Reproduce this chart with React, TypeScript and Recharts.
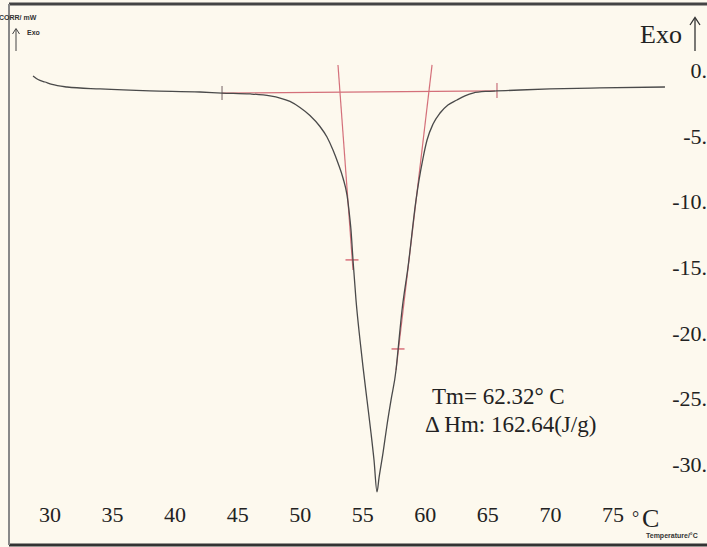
import { ComposedChart, Line, XAxis, YAxis } from 'recharts'

// #region Data
// DSC trace, temperature (°C) vs heat flow (mW)
const curveT = [
  28.64, 29.04, 29.6, 30.16, 31.36, 34.0, 37.99, 41.99, 43.75, 45.99, 47.59, 48.39, 49.18,
  49.98, 50.78, 51.58, 52.14, 52.62, 53.02, 53.42, 53.74, 53.94, 54.06, 54.22, 54.46, 54.78,
  55.02, 55.34, 55.66, 55.9, 56.14, 56.3, 56.62, 56.94, 57.26, 57.66, 57.82, 58.14, 58.62,
  59.26, 59.5, 59.82, 60.14, 60.62, 61.18, 61.81, 62.53, 63.17, 63.81, 64.93, 65.73, 67.57,
  69.97, 73.96, 79.16,
]
const curveV = [
  -0.38, -0.65, -0.84, -1.03, -1.22, -1.37, -1.52, -1.6, -1.68, -1.75, -1.9, -2.06, -2.32,
  -2.78, -3.39, -4.23, -5.03, -6.02, -7.01, -8.15, -9.44, -10.97, -12.11, -14.39, -17.44,
  -20.49, -22.54, -25.06, -27.57, -29.63, -32.06, -30.99, -29.09, -26.96, -25.06, -22.77,
  -21.25, -18.2, -14.93, -9.82, -8.3, -6.63, -5.26, -4.04, -3.2, -2.59, -2.21, -1.9, -1.68,
  -1.55, -1.52, -1.45, -1.37, -1.29, -1.22,
]

// construction lines (baseline + onset/endset tangents)
const baselineT = [43.75, 65.57]
const baselineV = [-1.68, -1.52]
const leftTanT = [53.02, 54.22]
const leftTanV = [0.46, -15.16]
const rightTanT = [60.54, 57.66]
const rightTanV = [0.46, -22.77]
const leftCrossT = [53.62, 54.66]
const leftCrossV = [-14.39, -14.39]
const rightCrossT = [57.3, 58.34]
const rightCrossV = [-21.17, -21.17]
const startMarkT = [43.75, 43.75]
const startMarkV = [-1.14, -2.21]
const endMarkT = [65.73, 65.73]
const endMarkV = [-0.91, -2.06]

const xLabels = [30, 35, 40, 45, 50, 55, 60, 65, 70, 75]
const xTickMarks = [29.6, 33.76, 37.83, 41.99, 46.07, 50.14, 54.3, 58.38, 62.45, 66.53, 70.61, 74.68, 78.84]
const yLabels = [0, -5, -10, -15, -20, -25, -30]
// #endregion

const pts = (t: number[], v: number[]) => t.map((x, i) => ({ t: x, v: v[i] }))

const curve = pts(curveT, curveV)
const segments = [
  { data: pts(baselineT, baselineV), color: '#d4707a' },
  { data: pts(leftTanT, leftTanV), color: '#d4707a' },
  { data: pts(rightTanT, rightTanV), color: '#d4707a' },
  { data: pts(leftCrossT, leftCrossV), color: '#d0505e' },
  { data: pts(rightCrossT, rightCrossV), color: '#d0505e' },
  { data: pts(startMarkT, startMarkV), color: '#8a7a7a' },
  { data: pts(endMarkT, endMarkV), color: '#c8707a' },
]

const X_DOMAIN: [number, number] = [26.72, 82.52]
const Y_DOMAIN: [number, number] = [-36.1, 5.1]
const SERIF = '"Liberation Serif", serif'
const INK = '#222'

const BottomTick = (props: any) => {
  const { x, y, payload } = props
  return (
    <text x={x} y={y - 22} textAnchor="middle" fontFamily={SERIF} fontSize={22} fill={INK}>
      {payload.value}
    </text>
  )
}

// the instrument's labels run off the right edge, only "-10." etc. is visible
const RightTick = (props: any) => {
  const { x, y, payload } = props
  return (
    <text x={x} y={y + 7} textAnchor="end" fontFamily={SERIF} fontSize={22} fill={INK}>
      {`${payload.value}.`}
    </text>
  )
}

export default function App() {
  return (
    <div
      style={{
        position: 'absolute',
        left: 0,
        top: 0,
        width: 707,
        height: 547,
        background: '#fdf9ee',
        overflow: 'hidden',
      }}
    >
      <ComposedChart width={707} height={547} margin={{ top: 4, right: 0, bottom: 2, left: 9 }}>
        <XAxis
          xAxisId="b"
          dataKey="t"
          type="number"
          domain={X_DOMAIN}
          allowDataOverflow
          orientation="bottom"
          mirror
          height={1}
          ticks={xTickMarks}
          interval={0}
          tick={false}
          tickSize={6}
          axisLine={{ stroke: '#333', strokeWidth: 3 }}
          tickLine={{ stroke: '#555' }}
        />
        <XAxis
          xAxisId="top"
          dataKey="t"
          type="number"
          domain={X_DOMAIN}
          allowDataOverflow
          orientation="top"
          mirror
          height={1}
          ticks={xTickMarks}
          interval={0}
          tick={false}
          tickSize={6}
          axisLine={{ stroke: '#444', strokeWidth: 3 }}
          tickLine={{ stroke: '#555' }}
        />
        <XAxis
          xAxisId="lbl"
          dataKey="t"
          type="number"
          domain={X_DOMAIN}
          allowDataOverflow
          orientation="bottom"
          mirror
          height={1}
          ticks={xLabels}
          interval={0}
          axisLine={false}
          tickLine={false}
          tickSize={0}
          tickMargin={0}
          tick={<BottomTick />}
        />
        <YAxis
          yAxisId="r"
          type="number"
          domain={Y_DOMAIN}
          allowDataOverflow
          orientation="right"
          mirror
          width={1}
          ticks={yLabels}
          interval={0}
          axisLine={false}
          tickLine={false}
          tickSize={0}
          tickMargin={0}
          tick={<RightTick />}
        />
        <YAxis
          yAxisId="l"
          type="number"
          domain={Y_DOMAIN}
          allowDataOverflow
          orientation="left"
          mirror
          width={1}
          tick={false}
          tickLine={false}
          axisLine={{ stroke: '#888', strokeWidth: 2 }}
        />

        {segments.map((s, i) => (
          <Line
            key={`seg-${i}`}
            data={s.data}
            dataKey="v"
            xAxisId="b"
            yAxisId="r"
            type="linear"
            stroke={s.color}
            strokeWidth={1.2}
            dot={false}
            isAnimationActive={false}
          />
        ))}
        <Line
          data={curve}
          dataKey="v"
          xAxisId="b"
          yAxisId="r"
          type="monotone"
          stroke="#4a4a4a"
          strokeWidth={1.3}
          dot={false}
          isAnimationActive={false}
        />
      </ComposedChart>

      {/* instrument annotations */}
      <svg
        width={707}
        height={547}
        style={{ position: 'absolute', left: 0, top: 0, pointerEvents: 'none' }}
      >
        <text x={-1} y={20} fontFamily="Arial, sans-serif" fontWeight="bold" fontSize={7} fill="#333">
          CORR/ mW
        </text>
        <line x1={16} y1={29} x2={16} y2={51} stroke="#444" strokeWidth={1} />
        <path d="M12.5 34 L16 28.5 L19.5 34" fill="none" stroke="#444" strokeWidth={1} />
        <text x={27} y={35} fontFamily="Arial, sans-serif" fontWeight="bold" fontSize={7} fill="#333">
          Exo
        </text>

        <text x={640} y={43} fontFamily={SERIF} fontSize={26} fill={INK}>
          Exo
        </text>
        <line x1={695} y1={18} x2={695} y2={51} stroke="#333" strokeWidth={1.3} />
        <path d="M690 25 L695 17.5 L700 25" fill="none" stroke="#333" strokeWidth={1.3} />

        <text x={432} y={404} fontFamily={SERIF} fontSize={23} fill={INK}>
          Tm= 62.32° C
        </text>
        <text x={425} y={432} fontFamily={SERIF} fontSize={23} fill={INK}>
          Δ Hm: 162.64(J/g)
        </text>

        <text x={632} y={524} fontFamily={SERIF} fontSize={18} fill={INK}>
          °
        </text>
        <text x={642} y={527} fontFamily={SERIF} fontSize={26} fill={INK}>
          C
        </text>
        <text x={646} y={538} fontFamily="Arial, sans-serif" fontWeight="bold" fontSize={7} fill="#333">
          Temperature/°C
        </text>
      </svg>
    </div>
  )
}
